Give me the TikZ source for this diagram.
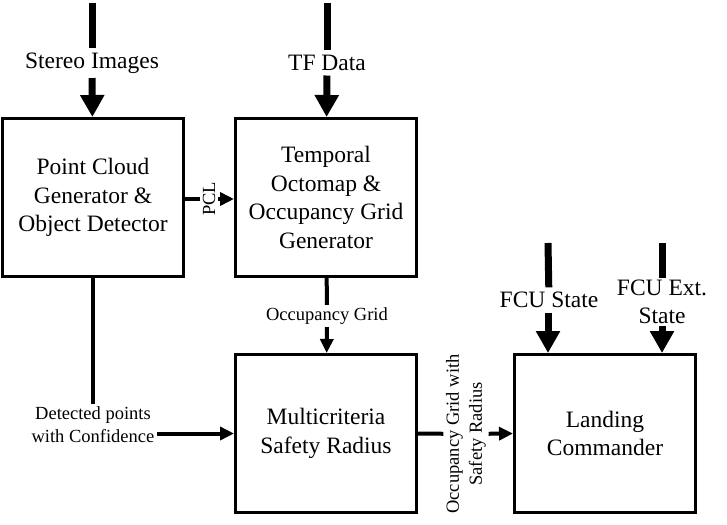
\documentclass[tikz,border=0pt]{standalone}
\usepackage{fontspec}
\setmainfont{Liberation Serif}
\usepackage{tikz}
\usetikzlibrary{
  arrows.meta,
  positioning,  % Function "of" (e.g. [right=of x])
}
\newcommand{\boxfont}{\fontsize{23.5}{28.5}\selectfont}
\newcommand{\lblfont}{\fontsize{18.5}{23}\selectfont}
\def\myboxw{181pt}
\def\myboxh{158pt}
\tikzset{
  my block/.style={
    draw,
    line width=3pt,
    minimum width=\myboxw,
    minimum height=\myboxh,
    inner sep=1mm,
    align=center,
    font=\boxfont,
    rectangle
  },
  in label/.style={
    inner sep=4.5pt,
    align=center,
    font=\boxfont
  },
  small label/.style={
    inner sep=2.5pt,
    align=center,
    font=\lblfont
  },
  fat line/.style={
    line width=7pt
  },
  fat arrow/.style={
    line width=7pt,
    -{Triangle[width=23pt,length=22pt]}
  },
  thin line/.style={
    line width=4pt
  },
  thin arrow/.style={
    line width=4pt,
    -{Triangle[width=13pt,length=14pt]}
  }
}
\begin{document}
\begin{tikzpicture}[x=1pt,y=-1pt]
\useasboundingbox (0,0) rectangle (727,524);
% blocks
\node[my block] (pcg) at (93,197.5) {Point Cloud\\Generator \&\\Object Detector};
\node[my block] (octo) [right=49pt of pcg] {Temporal\\Octomap \&\\Occupancy Grid\\Generator};
\node[my block] (msr) [below=75pt of octo] {Multicriteria\\Safety Radius};
\node[my block] (lc) [right=95pt of msr] {Landing\\Commander};
% inputs
\coordinate (si top) at (92,3);
\node[in label] (si) at (92,63) {Stereo Images};
\coordinate (tf top) at (327,3);
\node[in label] (tf) at (327,63) {TF Data};
\coordinate (fs top) at (548,243);
\node[in label] (fs) at (549,300) {FCU State};
\coordinate (fes top) at (662,243);
\node[in label,inner sep=2pt] (fes) at (662,302) {FCU Ext.\\State};
\draw[fat line] (si top) -- (si);
\draw[fat arrow] (si) -- (pcg);
\draw[fat line] (tf top) -- (tf);
\draw[fat arrow] (tf) -- (octo);
\draw[fat line] (fs top) -- (fs);
\draw[fat arrow] (fs.south -| fs top) -- (fs top |- lc.north);
\draw[fat line] (fes top) -- (fes top |- fes.north);
\draw[fat arrow] (fes.south) -- (fes.south |- lc.north);
% links
\node[small label,rotate=90] (pcl) at (209,199) {PCL};
\draw[thin line] (pcg.east |- pcl) -- (pcl);
\draw[thin arrow] (pcl) -- (octo.west |- pcl);
\node[small label] (og) at (327,316) {Occupancy Grid};
\draw[thin line] (octo) -- (og);
\draw[thin arrow] (og) -- (msr);
\node[small label] (det) at (93,425) {Detected points\\with Confidence};
\draw[thin line] (pcg.south -| det) -- (det);
\draw[thin arrow] (det.east |- msr.west) -- (msr.west);
\node[small label,rotate=90] (sr) at (466,434) {Occupancy Grid with\\Safety Radius};
\draw[thin line] (msr.east) -- (sr);
\draw[thin arrow] (sr) -- (lc.west);
\end{tikzpicture}
\end{document}
